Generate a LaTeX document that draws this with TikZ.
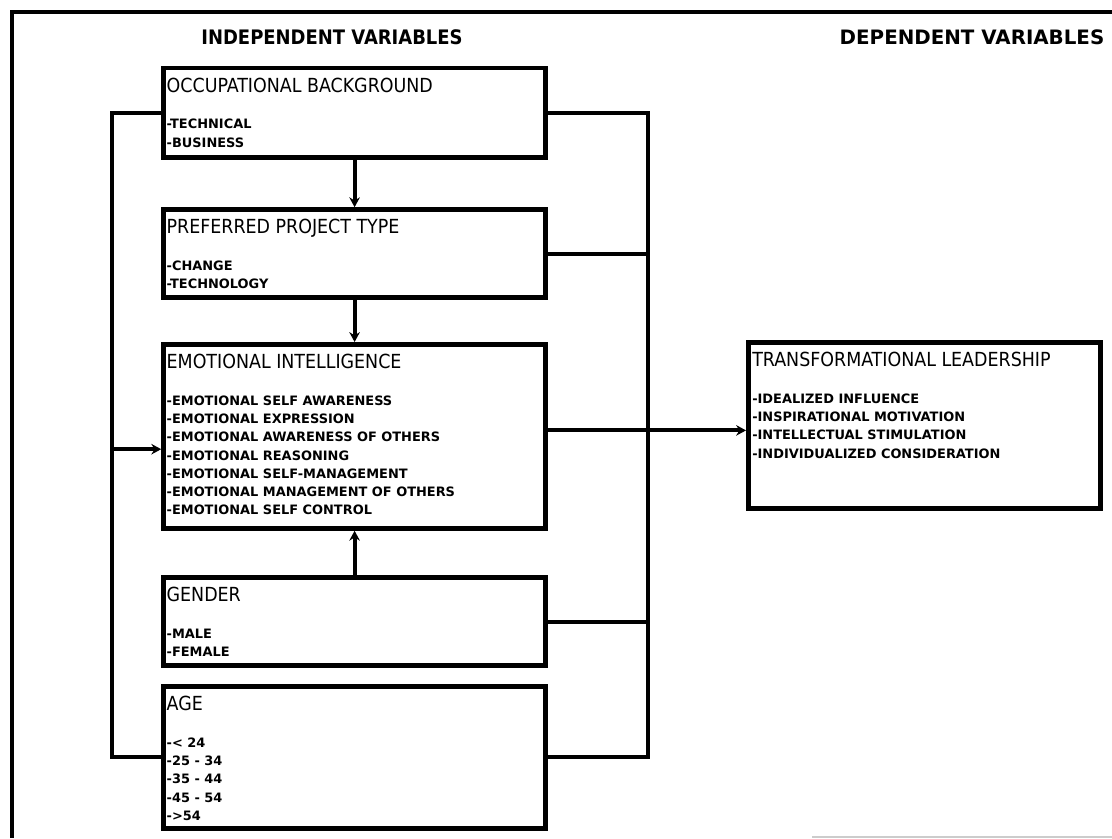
\documentclass[tikz,border=0pt]{standalone}
\usepackage{fontspec}
\setmainfont{DejaVu Sans}
\newfontfamily\condfont{DejaVu Sans Condensed}
\usetikzlibrary{arrows.meta,positioning,calc}

\tikzset{
  varbox/.style={draw, line width=3.4pt, inner sep=0pt, anchor=north west, minimum width=9.55cm},
  vartext/.style={anchor=north west, inner sep=0pt, align=left, font=\fontsize{9.2}{13}\selectfont\bfseries},
  link/.style={line width=2.9pt},
  heading/.style={font=\fontsize{14.1}{16}\selectfont\bfseries}
}
\newcommand{\boxtitle}[1]{{\condfont\mdseries\fontsize{13.8}{16}\selectfont #1}}

\begin{document}
\begin{tikzpicture}[>={Stealth[length=7pt,width=7.5pt]}]
        \useasboundingbox (0,0) rectangle (27.8,-20.95);
        % Outer frame
        \draw[line width=3.4pt] (27.8,-0.3) -- (0.3,-0.3) -- (0.3,-20.95);
        \draw[line width=1pt, gray!40] (20.3,-20.92) -- (27.8,-20.92);

        % Headings
        \node[heading, font=\condfont\fontsize{14.2}{16}\selectfont\bfseries] (indep) at (8.3,-0.93) {INDEPENDENT VARIABLES};
        \node[heading] (dep) at (24.3,-0.93) {DEPENDENT VARIABLES};

        % Independent variables
        \node[varbox, minimum height=2.24cm] (occ) at (4.03,-1.64) {};
        \node[vartext] (occtext) at ([xshift=0.13cm, yshift=-0.3cm]occ.north west) {\boxtitle{OCCUPATIONAL BACKGROUND}\\[13pt]-TECHNICAL\\-BUSINESS};

        \node[varbox, minimum height=2.2cm] (ppt) at (4.03,-5.18) {};
        \node[vartext] (ppttext) at ([xshift=0.13cm, yshift=-0.3cm]ppt.north west) {\boxtitle{PREFERRED PROJECT TYPE}\\[13pt]-CHANGE\\-TECHNOLOGY};

        \node[varbox, minimum height=4.6cm] (ei) at (4.03,-8.55) {};
        \node[vartext] (eitext) at ([xshift=0.13cm, yshift=-0.3cm]ei.north west) {\boxtitle{EMOTIONAL INTELLIGENCE}\\[13pt]-EMOTIONAL SELF AWARENESS\\-EMOTIONAL EXPRESSION\\-EMOTIONAL AWARENESS OF OTHERS\\-EMOTIONAL REASONING\\-EMOTIONAL SELF-MANAGEMENT\\-EMOTIONAL MANAGEMENT OF OTHERS\\-EMOTIONAL SELF CONTROL};

        \node[varbox, minimum height=2.2cm] (gender) at (4.03,-14.38) {};
        \node[vartext] (gendertext) at ([xshift=0.13cm, yshift=-0.3cm]gender.north west) {\boxtitle{GENDER}\\[13pt]-MALE\\-FEMALE};

        \node[varbox, minimum height=3.55cm] (age) at (4.03,-17.1) {};
        \node[vartext] (agetext) at ([xshift=0.13cm, yshift=-0.3cm]age.north west) {\boxtitle{AGE}\\[13pt]-< 24\\-25 - 34\\-35 - 44\\-45 - 54\\->54};

        % Dependent variable
        \node[varbox, minimum width=8.8cm, minimum height=4.15cm] (tl) at (18.65,-8.5) {};
        \node[vartext] (tltext) at ([xshift=0.15cm, yshift=-0.3cm]tl.north west) {\boxtitle{TRANSFORMATIONAL LEADERSHIP}\\[13pt]-IDEALIZED INFLUENCE\\-INSPIRATIONAL MOTIVATION\\-INTELLECTUAL STIMULATION\\-INDIVIDUALIZED CONSIDERATION};

        % Chain of arrows through the middle
        \draw[link, ->] (occ.south) -- (ppt.north);
        \draw[link, ->] (ppt.south) -- (ei.north);
        \draw[link, ->] (gender.north) -- (ei.south);

        % Left bus
        \coordinate (lbus) at (2.8,0);
        \coordinate (eiin) at ([yshift=-0.32cm]ei.west);
        \draw[link] (occ.west) -| (lbus |- age.west) -- (age.west);
        \draw[link, ->] (lbus |- eiin) -- (eiin);

        % Right bus
        \coordinate (rbus) at (16.2,0);
        \coordinate (eiout) at ([yshift=0.15cm]ei.east);
        \draw[link] (occ.east) -| (rbus |- age.east) -- (age.east);
        \foreach \v in {ppt, gender}
            \draw[link] (\v.east) -- (rbus |- \v.east);
        \draw[link, ->] (eiout) -- (tl.west |- eiout);
    \end{tikzpicture}
\end{document}
